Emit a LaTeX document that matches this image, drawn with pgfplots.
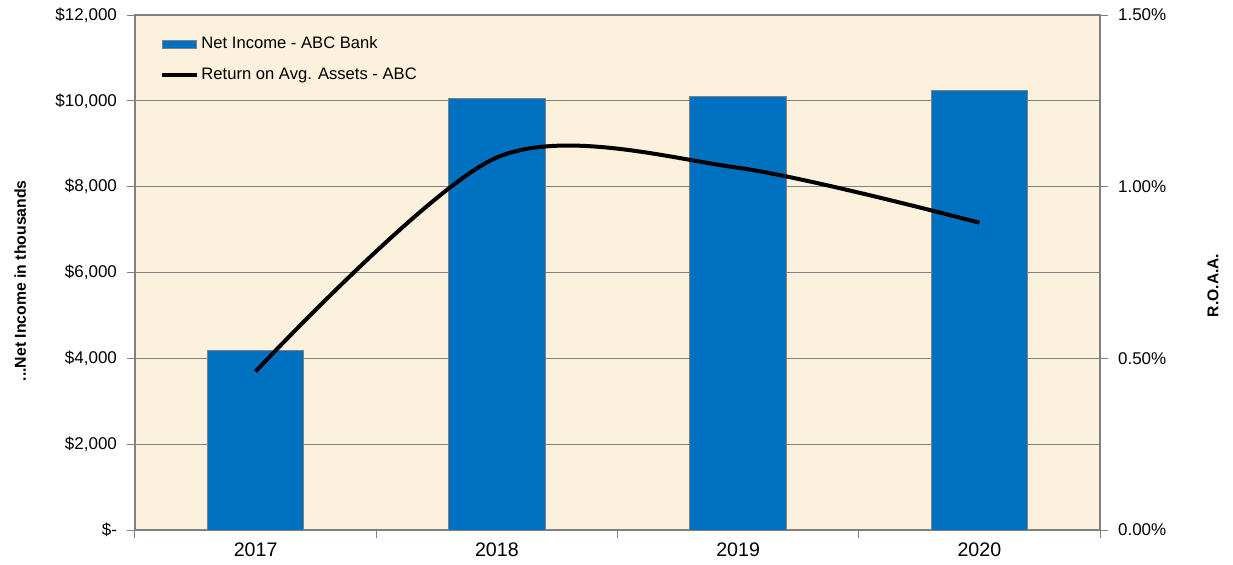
\documentclass[border=0pt]{standalone}
\usepackage{fontspec}
\setmainfont{Liberation Sans}
\usepackage{pgfplots}
\pgfplotsset{compat=1.18}
\definecolor{barblue}{RGB}{0,112,192}
\definecolor{parch}{RGB}{251,241,220}
\definecolor{gridgray}{RGB}{128,128,128}
\pgfplotsset{
  barlegend/.style={legend image code/.code={\draw[##1] (0pt,-2pt) rectangle (17pt,2pt);}},
  linelegend/.style={legend image code/.code={\draw[##1] (0pt,0pt) -- (17.5pt,0pt);}},
}
\begin{document}
\begin{tikzpicture}
\begin{axis}[
  scale only axis, width=482.5pt, height=257.5pt,
  xmin=-0.5, xmax=3.5, ymin=0, ymax=12000,
  axis background/.style={fill=parch},
  axis line style={gridgray, line width=0.6pt},
  xtick={-0.5,0.5,1.5,2.5,3.5},
  x tick label as interval,
  xticklabels={2017,2018,2019,2020},
  ytick={0,2000,4000,6000,8000,10000,12000},
  yticklabels={\$-,\$2{,}000,\$4{,}000,\$6{,}000,\$8{,}000,\$10{,}000,\$12{,}000},
  xtick pos=bottom, ytick pos=left,
  tick align=outside, major tick length=4pt,
  tick style={gridgray, line width=0.5pt},
  ymajorgrids, grid style={gridgray, line width=0.5pt},
  /pgf/number format/assume math mode=true,
  yticklabel style={font=\fontsize{8.5}{10}\selectfont, xshift=-1.5pt},
  xticklabel style={font=\fontsize{9.8}{11.5}\selectfont, yshift=1.2pt},
  every axis y label/.style={at={(axis description cs:-0.119,0.484)}, rotate=90, anchor=center},
  ylabel={\fontsize{7.9}{9}\selectfont\bfseries ...Net Income in thousands},
  legend style={draw=none, fill=none, at={(0.026,0.966)}, anchor=north west,
    font=\fontsize{8.3}{10}\selectfont, row sep=4pt, inner sep=0pt,
    nodes={inner xsep=1pt}},
  legend cell align=left,
]
\coordinate (ll) at (rel axis cs:0,0);
\coordinate (ur) at (rel axis cs:1,1);
\addplot[ybar, bar width=0.4, fill=barblue, draw=gray, line width=0.5pt, barlegend]
  coordinates {(0,4180) (1,10050) (2,10100) (3,10250)};
\addlegendentry{Net Income - ABC Bank}
\addlegendimage{black, line width=2pt, linelegend}
\addlegendentry{Return on Avg. Assets - ABC}
\end{axis}
\begin{axis}[
  scale only axis, width=482.5pt, height=257.5pt,
  xmin=-0.5, xmax=3.5, ymin=0, ymax=1.5,
  axis x line=none, axis y line*=right,
  axis line style={gridgray, line width=0.6pt},
  ytick={0,0.5,1,1.5},
  yticklabels={0.00\%,0.50\%,1.00\%,1.50\%},
  tick align=outside, major tick length=4pt,
  tick style={gridgray, line width=0.5pt},
  /pgf/number format/assume math mode=true,
  yticklabel style={font=\fontsize{8.5}{10}\selectfont, xshift=1.5pt},
  every axis y label/.style={at={(axis description cs:1.117,0.475)}, rotate=90, anchor=center},
  ylabel={\fontsize{7.8}{9}\selectfont\bfseries R.O.A.A.},
]
\addplot[black, line width=2pt, smooth] coordinates {(0,0.462) (1,1.085) (2,1.055) (3,0.895)};
\end{axis}
\pgfresetboundingbox
\path[use as bounding box] ([xshift=-67.5pt,yshift=-17pt]ll) rectangle ([xshift=66.5pt,yshift=7.5pt]ur);
\end{tikzpicture}
\end{document}
